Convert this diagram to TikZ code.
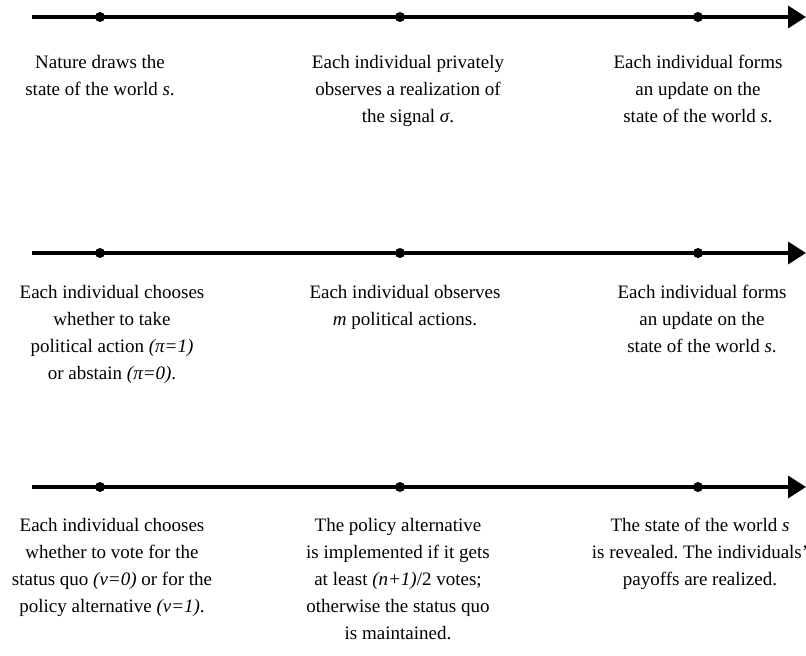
\documentclass[tikz,border=0pt]{standalone}
\usepackage{fontspec}
\setmainfont{Liberation Serif}
\usetikzlibrary{arrows.meta}
\frenchspacing
\tikzset{
  timeline/.style={line width=3.5pt,-{Triangle[length=18pt,width=22pt]}},
  dot/.style={circle,fill=black,inner sep=0pt,minimum size=10pt},
  stage/.style={anchor=north,align=center,inner sep=0pt,font=\fontsize{19}{27}\selectfont}
}

\begin{document}
\begin{tikzpicture}[x=1pt,y=1pt]
            \useasboundingbox (0,0) rectangle (806,-656);
            % first line
            \coordinate (s1) at (32,-17);
            \coordinate (e1) at (806,-17);
            \draw[timeline] (s1) -- (e1);
            \node[dot] (d11) at (100,-17) {};
            \node[dot] (d12) at (400,-17) {};
            \node[dot] (d13) at (698,-17) {};
            \node[stage] (a11) at (100,-55) {Nature draws the\\state of the world \textit{s}.};
            \node[stage] (a12) at (408,-55) {Each individual privately\\observes a realization of\\the signal \textit{σ}.};
            \node[stage] (a13) at (698,-55) {Each individual forms\\an update on the\\state of the world \textit{s}.};
            % second line
            \coordinate (s2) at (32,-253);
            \coordinate (e2) at (806,-253);
            \draw[timeline] (s2) -- (e2);
            \node[dot] (d21) at (100,-253) {};
            \node[dot] (d22) at (400,-253) {};
            \node[dot] (d23) at (698,-253) {};
            \node[stage] (a21) at (112,-285) {Each individual chooses\\whether to take\\political action \textit{(π=1)}\\or abstain \textit{(π=0)}.};
            \node[stage] (a22) at (405,-285) {Each individual observes\\\textit{m} political actions.};
            \node[stage] (a23) at (702,-285) {Each individual forms\\an update on the\\state of the world \textit{s}.};
            % third line
            \coordinate (s3) at (32,-487);
            \coordinate (e3) at (806,-487);
            \draw[timeline] (s3) -- (e3);
            \node[dot] (d31) at (100,-487) {};
            \node[dot] (d32) at (400,-487) {};
            \node[dot] (d33) at (698,-487) {};
            \node[stage] (a31) at (112,-518) {Each individual chooses\\whether to vote for the\\status quo \textit{(ν=0)} or for the\\policy alternative \textit{(ν=1)}.};
            \node[stage] (a32) at (398,-518) {The policy alternative\\is implemented if it gets\\at least \textit{(n+1)}/2 votes;\\otherwise the status quo\\is maintained.};
            \node[stage] (a33) at (700,-518) {The state of the world \textit{s}\\is revealed. The individuals'\\payoffs are realized.};
        \end{tikzpicture}
\end{document}
